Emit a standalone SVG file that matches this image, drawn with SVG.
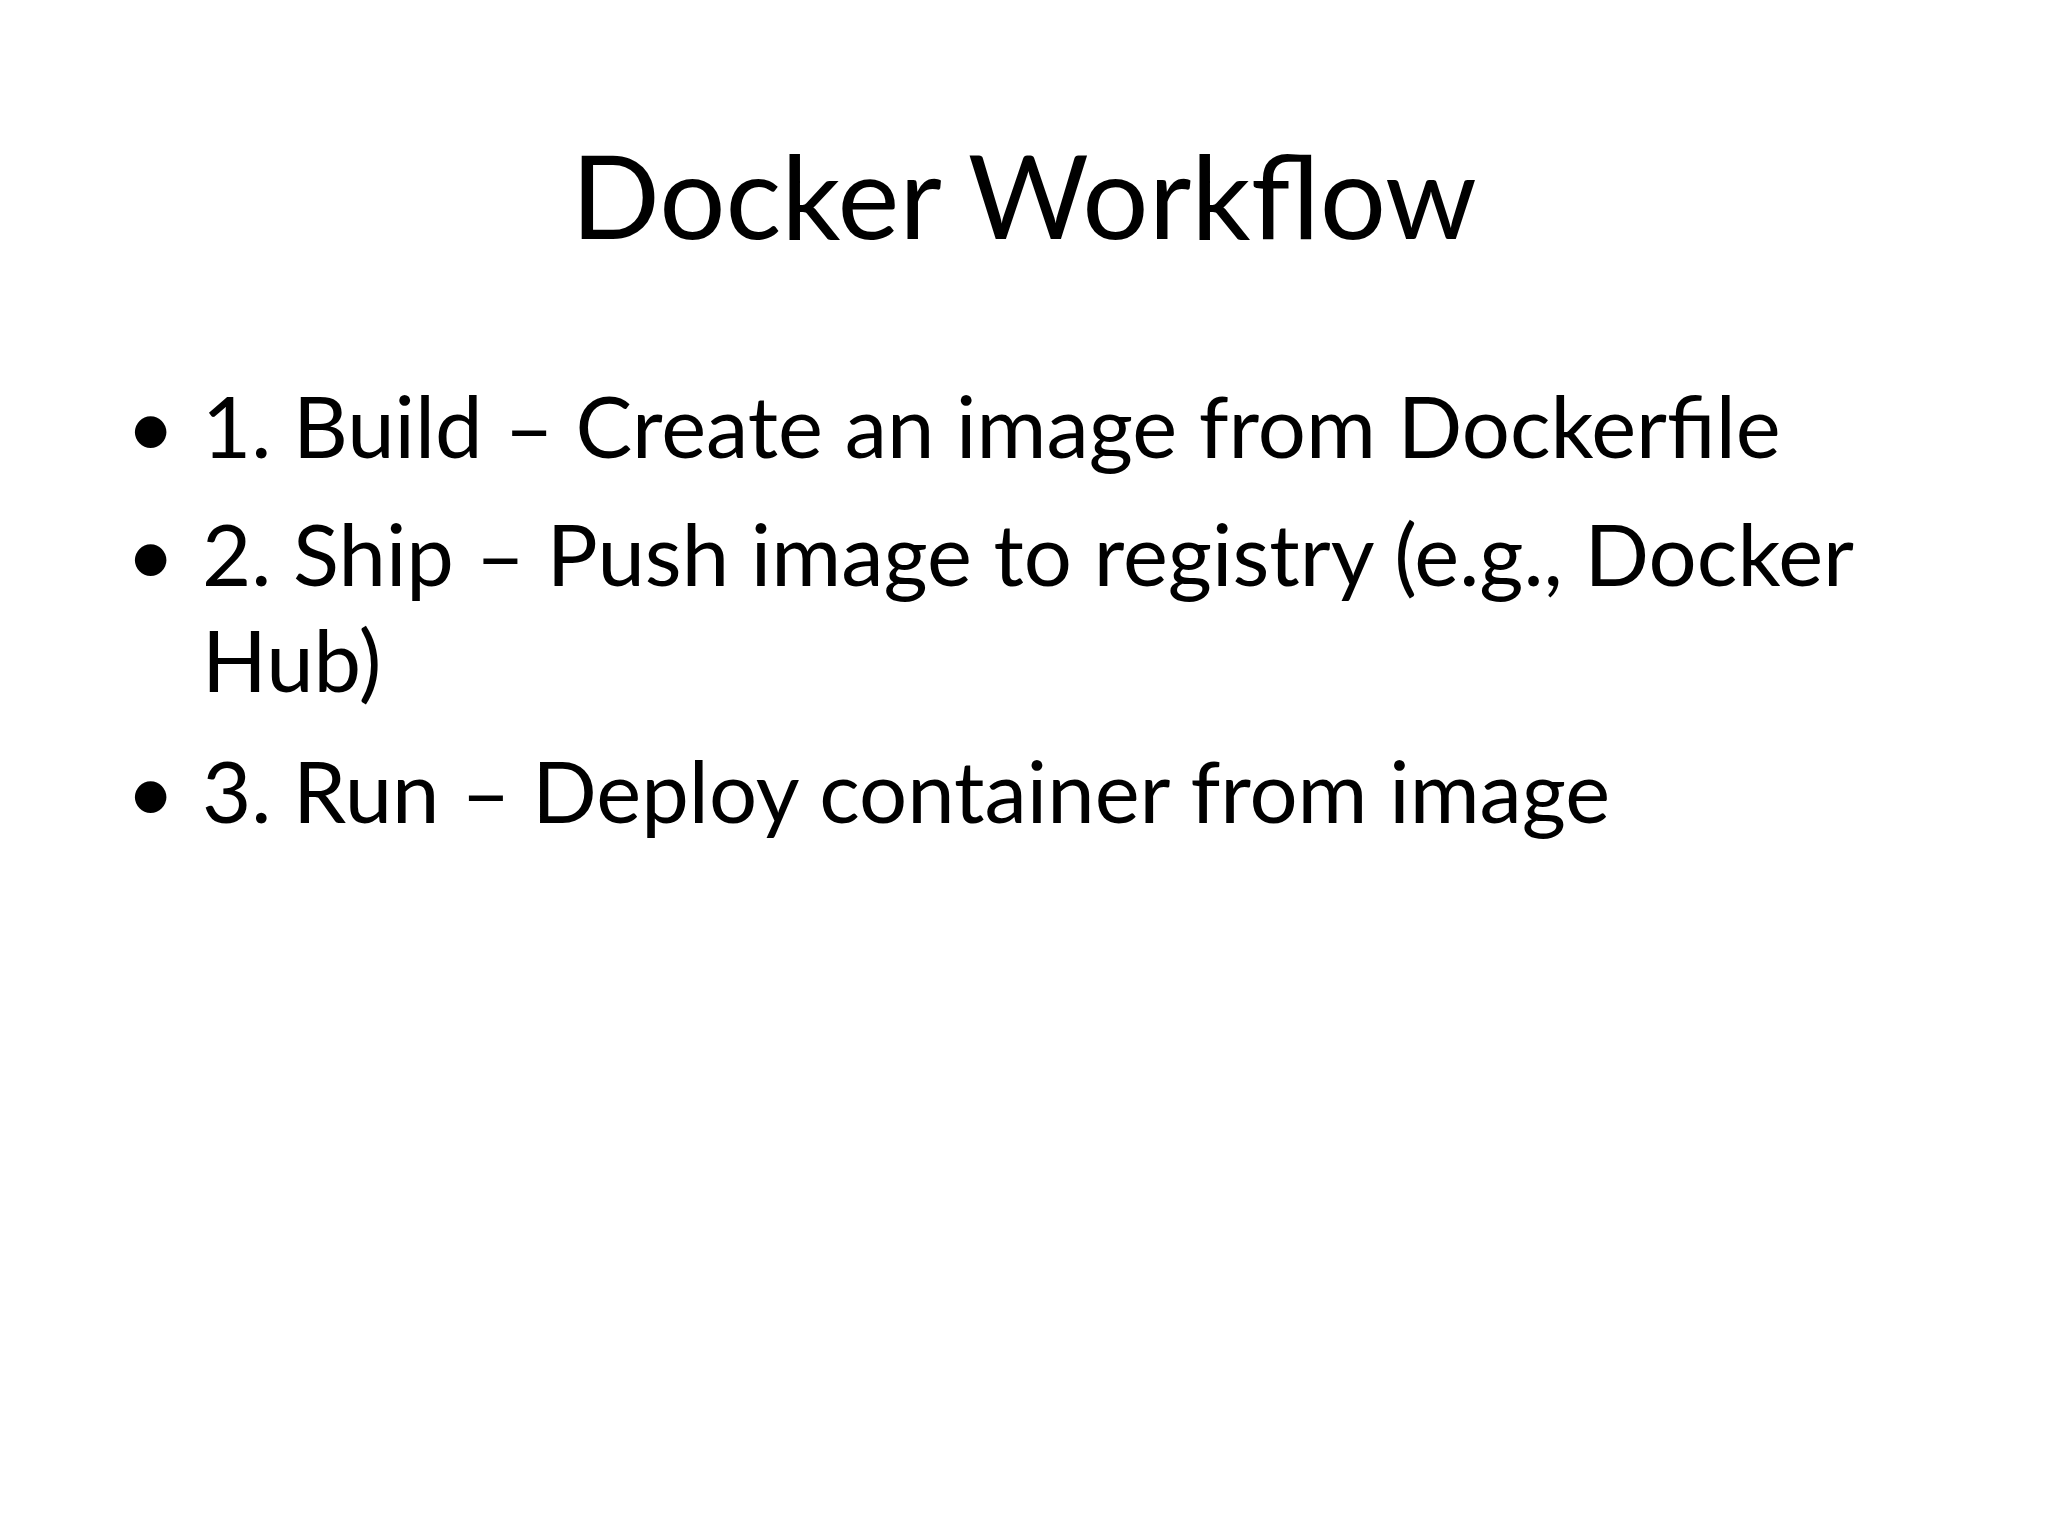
<svg xmlns="http://www.w3.org/2000/svg" width="2048" height="1536" viewBox="0 0 2048 1536">
<style>
text{font-family:Lato,"Noto Sans",sans-serif;fill:#000}
.t{font-size:117px}
.b{font-size:85px}
</style>
<rect width="2048" height="1536" fill="#fff"/>
<g id="title"><text class="t" x="1024" y="239" text-anchor="middle">Docker Workflow</text></g>
<g id="bullets">
<text class="b" x="126" y="458">•</text>
<text class="b" x="202" y="458">1. Build – Create an image from Dockerfile</text>
<text class="b" x="126" y="586">•</text>
<text class="b" x="202" y="586">2. Ship – Push image to registry (e.g., Docker</text>
<text class="b" x="202" y="692">Hub)</text>
<text class="b" x="126" y="823">•</text>
<text class="b" x="202" y="823">3. Run – Deploy container from image</text>
</g>
</svg>
